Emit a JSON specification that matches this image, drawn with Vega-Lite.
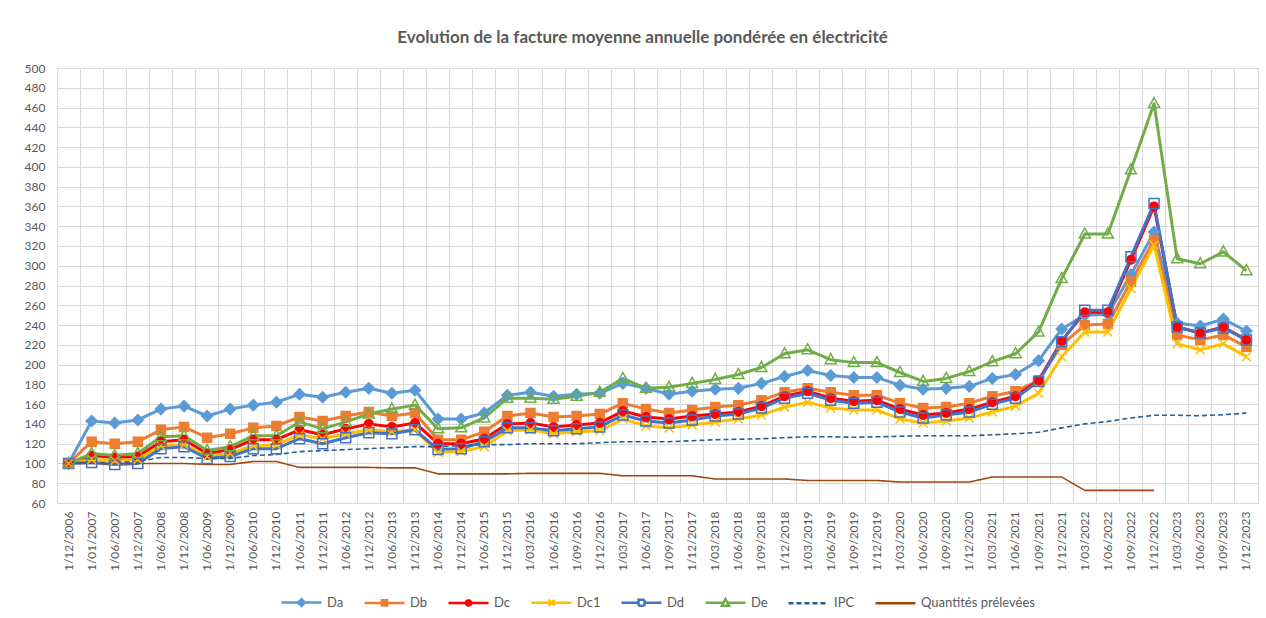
{
  "$schema": "https://vega.github.io/schema/vega-lite/v6.json",
  "width": 1201,
  "height": 435,
  "autosize": {"type": "none"},
  "padding": {"left": 57, "top": 68, "right": 8, "bottom": 115},
  "background": "white",
  "title": {"text": "Evolution de la facture moyenne annuelle pondérée en électricité", "fontSize": 17, "fontWeight": "bold", "color": "#595959", "font": "Lato", "offset": 15, "dx": -15},
  "data": {"values": [
    {"i":0,"d":"1/12/2006","Da":100,"Db":100,"Dc":100,"Dc1":100,"Dd":100,"De":100,"IPC":100,"Quantités prélevées":100},
    {"i":1,"d":"1/01/2007","Da":143,"Db":122,"Dc":108,"Dc1":104,"Dd":101,"De":110,"IPC":101,"Quantités prélevées":100},
    {"i":2,"d":"1/06/2007","Da":141,"Db":120,"Dc":106,"Dc1":103,"Dd":99,"De":108,"IPC":101,"Quantités prélevées":100},
    {"i":3,"d":"1/12/2007","Da":144,"Db":122,"Dc":107,"Dc1":104,"Dd":100,"De":110,"IPC":102,"Quantités prélevées":100},
    {"i":4,"d":"1/06/2008","Da":155,"Db":134,"Dc":122,"Dc1":118,"Dd":115,"De":127,"IPC":106,"Quantités prélevées":100},
    {"i":5,"d":"1/12/2008","Da":158,"Db":137,"Dc":124,"Dc1":119,"Dd":117,"De":128,"IPC":106,"Quantités prélevées":100},
    {"i":6,"d":"1/06/2009","Da":148,"Db":126,"Dc":110,"Dc1":107,"Dd":105,"De":113,"IPC":105,"Quantités prélevées":99},
    {"i":7,"d":"1/12/2009","Da":155,"Db":130,"Dc":114,"Dc1":110,"Dd":107,"De":117,"IPC":105,"Quantités prélevées":99},
    {"i":8,"d":"1/06/2010","Da":159,"Db":136,"Dc":124,"Dc1":118,"Dd":115,"De":128,"IPC":108,"Quantités prélevées":102},
    {"i":9,"d":"1/12/2010","Da":162,"Db":138,"Dc":124,"Dc1":119,"Dd":115,"De":128,"IPC":109,"Quantités prélevées":102},
    {"i":10,"d":"1/06/2011","Da":170,"Db":147,"Dc":134,"Dc1":129,"Dd":125,"De":142,"IPC":112,"Quantités prélevées":96},
    {"i":11,"d":"1/12/2011","Da":167,"Db":143,"Dc":129,"Dc1":125,"Dd":120,"De":135,"IPC":113,"Quantités prélevées":96},
    {"i":12,"d":"1/06/2012","Da":172,"Db":148,"Dc":135,"Dc1":130,"Dd":126,"De":142,"IPC":114,"Quantités prélevées":96},
    {"i":13,"d":"1/12/2012","Da":176,"Db":152,"Dc":140,"Dc1":134,"Dd":131,"De":150,"IPC":115,"Quantités prélevées":96},
    {"i":14,"d":"1/06/2013","Da":171,"Db":148,"Dc":137,"Dc1":132,"Dd":130,"De":155,"IPC":116,"Quantités prélevées":95.5},
    {"i":15,"d":"1/12/2013","Da":174,"Db":151,"Dc":141,"Dc1":134,"Dd":134,"De":159,"IPC":117,"Quantités prélevées":95.5},
    {"i":16,"d":"1/06/2014","Da":145,"Db":124,"Dc":120,"Dc1":111,"Dd":114,"De":135,"IPC":117,"Quantités prélevées":89.5},
    {"i":17,"d":"1/12/2014","Da":145,"Db":124,"Dc":120,"Dc1":112,"Dd":115,"De":136,"IPC":118,"Quantités prélevées":89.5},
    {"i":18,"d":"1/06/2015","Da":151,"Db":132,"Dc":125,"Dc1":117,"Dd":122,"De":146,"IPC":119,"Quantités prélevées":89.5},
    {"i":19,"d":"1/12/2015","Da":169,"Db":148,"Dc":140,"Dc1":133,"Dd":136,"De":166,"IPC":119,"Quantités prélevées":89.5},
    {"i":20,"d":"1/03/2016","Da":172,"Db":151,"Dc":141,"Dc1":134,"Dd":136,"De":166,"IPC":120,"Quantités prélevées":90},
    {"i":21,"d":"1/06/2016","Da":168,"Db":147,"Dc":137,"Dc1":130,"Dd":133,"De":165,"IPC":120,"Quantités prélevées":90},
    {"i":22,"d":"1/09/2016","Da":170,"Db":148,"Dc":139,"Dc1":132,"Dd":135,"De":168,"IPC":120,"Quantités prélevées":90},
    {"i":23,"d":"1/12/2016","Da":171,"Db":150,"Dc":141,"Dc1":133,"Dd":137,"De":172,"IPC":121,"Quantités prélevées":90},
    {"i":24,"d":"1/03/2017","Da":181,"Db":161,"Dc":153,"Dc1":145,"Dd":149,"De":186,"IPC":122,"Quantités prélevées":87.5},
    {"i":25,"d":"1/06/2017","Da":176,"Db":155,"Dc":147,"Dc1":138,"Dd":143,"De":176,"IPC":122,"Quantités prélevées":87.5},
    {"i":26,"d":"1/09/2017","Da":170,"Db":151,"Dc":145,"Dc1":136,"Dd":141,"De":177,"IPC":122,"Quantités prélevées":87.5},
    {"i":27,"d":"1/12/2017","Da":173,"Db":154,"Dc":148,"Dc1":139,"Dd":144,"De":181,"IPC":123,"Quantités prélevées":87.5},
    {"i":28,"d":"1/03/2018","Da":175,"Db":157,"Dc":150,"Dc1":142,"Dd":148,"De":185,"IPC":124,"Quantités prélevées":84.3},
    {"i":29,"d":"1/06/2018","Da":176,"Db":159,"Dc":152,"Dc1":145,"Dd":150,"De":190,"IPC":124.5,"Quantités prélevées":84.3},
    {"i":30,"d":"1/09/2018","Da":181,"Db":164,"Dc":158,"Dc1":149,"Dd":156,"De":197,"IPC":125,"Quantités prélevées":84.3},
    {"i":31,"d":"1/12/2018","Da":188,"Db":172,"Dc":168,"Dc1":157,"Dd":166,"De":211,"IPC":126,"Quantités prélevées":84.3},
    {"i":32,"d":"1/03/2019","Da":194,"Db":176,"Dc":173,"Dc1":162,"Dd":171,"De":215,"IPC":127,"Quantités prélevées":82.8},
    {"i":33,"d":"1/06/2019","Da":189,"Db":172,"Dc":166,"Dc1":156,"Dd":164,"De":205,"IPC":127,"Quantités prélevées":82.8},
    {"i":34,"d":"1/09/2019","Da":187,"Db":169,"Dc":163,"Dc1":154,"Dd":161,"De":202,"IPC":126.5,"Quantités prélevées":82.8},
    {"i":35,"d":"1/12/2019","Da":187,"Db":169,"Dc":164,"Dc1":154,"Dd":162,"De":202,"IPC":127,"Quantités prélevées":82.8},
    {"i":36,"d":"1/03/2020","Da":179,"Db":161,"Dc":155,"Dc1":145,"Dd":152,"De":192,"IPC":127.5,"Quantités prélevées":81.2},
    {"i":37,"d":"1/06/2020","Da":175,"Db":156,"Dc":149,"Dc1":141,"Dd":146,"De":183,"IPC":128,"Quantités prélevées":81.2},
    {"i":38,"d":"1/09/2020","Da":176,"Db":157,"Dc":151,"Dc1":143,"Dd":149,"De":186,"IPC":128,"Quantités prélevées":81.2},
    {"i":39,"d":"1/12/2020","Da":178,"Db":161,"Dc":155,"Dc1":146,"Dd":152,"De":193,"IPC":128,"Quantités prélevées":81.2},
    {"i":40,"d":"1/03/2021","Da":186,"Db":168,"Dc":162,"Dc1":152,"Dd":160,"De":203,"IPC":129,"Quantités prélevées":86.3},
    {"i":41,"d":"1/06/2021","Da":190,"Db":173,"Dc":168,"Dc1":158,"Dd":166,"De":211,"IPC":130,"Quantités prélevées":86.3},
    {"i":42,"d":"1/09/2021","Da":204,"Db":184,"Dc":184,"Dc1":171,"Dd":183,"De":233,"IPC":131.5,"Quantités prélevées":86.3},
    {"i":43,"d":"1/12/2021","Da":236,"Db":220,"Dc":224,"Dc1":208,"Dd":223,"De":287,"IPC":136,"Quantités prélevées":86.3},
    {"i":44,"d":"1/03/2022","Da":250,"Db":240,"Dc":253,"Dc1":233,"Dd":255,"De":332,"IPC":140,"Quantités prélevées":72.8},
    {"i":45,"d":"1/06/2022","Da":251,"Db":241,"Dc":253,"Dc1":233,"Dd":255,"De":332,"IPC":142.5,"Quantités prélevées":72.8},
    {"i":46,"d":"1/09/2022","Da":291,"Db":284,"Dc":306,"Dc1":277,"Dd":309,"De":397,"IPC":146,"Quantités prélevées":72.8},
    {"i":47,"d":"1/12/2022","Da":334,"Db":326,"Dc":360,"Dc1":321,"Dd":363,"De":464,"IPC":148.7,"Quantités prélevées":72.8},
    {"i":48,"d":"1/03/2023","Da":242,"Db":230,"Dc":238,"Dc1":221,"Dd":238,"De":307,"IPC":148.7,"Quantités prélevées":null},
    {"i":49,"d":"1/06/2023","Da":239,"Db":225,"Dc":232,"Dc1":215,"Dd":232,"De":302,"IPC":148.3,"Quantités prélevées":null},
    {"i":50,"d":"1/09/2023","Da":246,"Db":230,"Dc":238,"Dc1":221,"Dd":237,"De":314,"IPC":149.3,"Quantités prélevées":null},
    {"i":51,"d":"1/12/2023","Da":234,"Db":218,"Dc":225,"Dc1":208,"Dd":225,"De":295,"IPC":151,"Quantités prélevées":null}
  ]},
  "transform": [
    {"fold": ["Da","Db","Dc","Dc1","Dd","De","IPC","Quantités prélevées"], "as": ["s","v"]},
    {"filter": "datum.v != null"}
  ],
  "encoding": {
    "x": {"field": "d", "type": "ordinal", "sort": null, "bandPosition": 0.5, "title": null,
      "scale": {"type": "band", "paddingInner": 0, "paddingOuter": 0},
      "axis": {"bandPosition": 0, "labelOffset": 0, "labelAngle": -90, "labelFontSize": 12, "labelColor": "#595959", "labelFont": "Lato", "labelPadding": 8, "ticks": false, "domain": false, "grid": true, "gridColor": "#d9d9d9", "gridWidth": 1, "labelOverlap": false}},
    "y": {"field": "v", "type": "quantitative", "title": null,
      "scale": {"domain": [60, 500], "nice": false, "zero": false},
      "axis": {"values": [60,80,100,120,140,160,180,200,220,240,260,280,300,320,340,360,380,400,420,440,460,480,500], "labelFontSize": 12, "labelColor": "#595959", "labelFont": "Lato", "labelPadding": 12, "ticks": false, "domain": false, "grid": true, "gridColor": "#d9d9d9", "gridWidth": 1}}
  },
  "layer": [
    {
      "transform": [{"filter": "indexof(['Da','Db','Dc','Dc1','Dd','De'], datum.s) >= 0"}],
      "mark": {"type": "line", "strokeWidth": 3, "strokeJoin": "round"},
      "encoding": {
        "stroke": {"field": "s", "type": "nominal",
          "scale": {"domain": ["Da","Db","Dc","Dc1","Dd","De","IPC","Quantités prélevées"], "range": ["#5B9BD5","#ED7D31","#FF0000","#FFC000","#4472C4","#70AD47","#255E91","#9E480E"]},
          "legend": {"title": null, "orient": "bottom", "direction": "horizontal", "columns": 8, "symbolSize": 1600, "symbolStrokeWidth": 2.5, "columnPadding": 15, "labelOffset": 4, "labelFontSize": 13, "labelColor": "#595959", "labelFont": "Lato", "offset": 10}
        },
        "order": {"field": "i", "type": "quantitative"}
      }
    },
    {
      "transform": [{"filter": "datum.s === 'IPC' || datum.s === 'Quantités prélevées'"}],
      "mark": {"type": "line", "strokeWidth": 1.6},
      "encoding": {
        "stroke": {"field": "s", "type": "nominal", "legend": null,
          "scale": {"domain": ["Da","Db","Dc","Dc1","Dd","De","IPC","Quantités prélevées"], "range": ["#5B9BD5","#ED7D31","#FF0000","#FFC000","#4472C4","#70AD47","#255E91","#9E480E"]}},
        "strokeDash": {"field": "s", "type": "nominal", "legend": null,
          "scale": {"domain": ["Da","Db","Dc","Dc1","Dd","De","IPC","Quantités prélevées"], "range": [[1,0],[1,0],[1,0],[1,0],[1,0],[1,0],[5,3],[1,0]]}},
        "order": {"field": "i", "type": "quantitative"}
      }
    },
    {
      "transform": [{"filter": "datum.s === 'Da'"}],
      "mark": {"type": "point", "shape": "M0,-1.1L1.1,0L0,1.1L-1.1,0Z", "size": 100, "fill": "#5B9BD5", "stroke": "#5B9BD5", "strokeWidth": 1.5, "opacity": 1}
    },
    {
      "transform": [{"filter": "datum.s === 'Db'"}],
      "mark": {"type": "point", "shape": "M-0.9,-0.9L0.9,-0.9L0.9,0.9L-0.9,0.9Z", "size": 100, "fill": "#ED7D31", "stroke": "#ED7D31", "strokeWidth": 1.5, "opacity": 1}
    },
    {
      "transform": [{"filter": "datum.s === 'Dc'"}],
      "mark": {"type": "point", "shape": "M-0.85,0A0.85,0.85,0,1,1,0.85,0A0.85,0.85,0,1,1,-0.85,0Z", "size": 100, "fill": "#FF0000", "stroke": "#FF0000", "strokeWidth": 1.5, "opacity": 1}
    },
    {
      "transform": [{"filter": "datum.s === 'Dc1'"}],
      "mark": {"type": "point", "shape": "M-0.9,-0.9L0.9,0.9M-0.9,0.9L0.9,-0.9", "size": 100, "fill": "transparent", "stroke": "#FFC000", "strokeWidth": 1.5, "opacity": 1}
    },
    {
      "transform": [{"filter": "datum.s === 'Dd'"}],
      "mark": {"type": "point", "shape": "M-1,-1L1,-1L1,1L-1,1Z", "size": 100, "fill": "transparent", "stroke": "#4472C4", "strokeWidth": 1.5, "opacity": 1}
    },
    {
      "transform": [{"filter": "datum.s === 'De'"}],
      "mark": {"type": "point", "shape": "M0,-1.2L1.1,0.8L-1.1,0.8Z", "size": 100, "fill": "transparent", "stroke": "#70AD47", "strokeWidth": 1.5, "opacity": 1}
    },
    {
      "transform": [{"filter": "false"}],
      "mark": {"type": "point", "size": 1600, "strokeWidth": 2.5, "opacity": 1},
      "encoding": {
        "stroke": {"field": "s", "type": "nominal", "legend": null,
          "scale": {"domain": ["Da","Db","Dc","Dc1","Dd","De","IPC","Quantités prélevées"], "range": ["#5B9BD5","#ED7D31","#FF0000","#FFC000","#4472C4","#70AD47","#255E91","#9E480E"]}},
        "strokeDash": {"field": "s", "type": "nominal",
          "scale": {"domain": ["Da","Db","Dc","Dc1","Dd","De","IPC","Quantités prélevées"], "range": [[1,0],[1,0],[1,0],[1,0],[1,0],[1,0],[5,3],[1,0]]}},
        "fill": {"field": "s", "type": "nominal",
          "scale": {"domain": ["Da","Db","Dc","Dc1","Dd","De","IPC","Quantités prélevées"], "range": ["#5B9BD5","#ED7D31","#FF0000","transparent","#FFFFFF","#FFFFFF","transparent","transparent"]}},
        "shape": {"field": "s", "type": "nominal",
          "scale": {"domain": ["Da","Db","Dc","Dc1","Dd","De","IPC","Quantités prélevées"], "range": [
            "M-1,0L1,0M0,-0.17L0.17,0L0,0.17L-0.17,0Z",
            "M-1,0L1,0M-0.13,-0.13L0.13,-0.13L0.13,0.13L-0.13,0.13Z",
            "M-1,0L1,0M-0.13,0A0.13,0.13,0,1,1,0.13,0A0.13,0.13,0,1,1,-0.13,0Z",
            "M-1,0L1,0M-0.15,-0.15L0.15,0.15M-0.15,0.15L0.15,-0.15",
            "M-1,0L-0.15,0M0.15,0L1,0M-0.15,-0.15L0.15,-0.15L0.15,0.15L-0.15,0.15Z",
            "M-1,0L-0.1,0M0.1,0L1,0M0,-0.19L0.18,0.14L-0.18,0.14Z",
            "M-1,0L1,0",
            "M-1,0L1,0"]}}
      }
    }
  ],
  "config": {
    "view": {"stroke": "#d9d9d9"},
    "legend": {"layout": {"bottom": {"anchor": "middle"}}}
  }
}
